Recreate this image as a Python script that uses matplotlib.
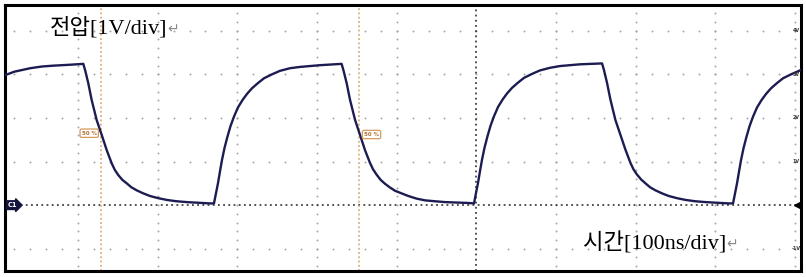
import numpy as np
import matplotlib.pyplot as plt

# Осциллограмма: время [нс], напряжение [В]
trace_t = [
    8.4, 20.0, 40.0, 55.0, 70.0, 90.0,
    # спад 1
    106.7, 109.2, 113.0, 117.2, 123.5, 129.8, 136.1, 142.3, 146.2, 150.6, 155.7,
    161.2, 167.0, 173.7, 182.0, 190.4, 200.8, 211.4, 223.4, 236.5, 265.7,
    # фронт 1
    270.7, 273.2, 275.7, 278.2, 280.7, 283.9, 287.6, 291.4, 295.8, 300.8,
    306.5, 312.1, 318.4, 325.9, 333.5, 343.5, 353.5, 366.1, 378.6, 403.8,
    # спад 2
    430.9, 433.4, 437.2, 441.4, 447.7, 454.0, 460.3, 466.5, 470.4, 474.8, 479.9,
    485.4, 491.2, 497.9, 506.2, 514.6, 525.0, 535.6, 547.6, 560.7, 589.9,
    # фронт 2
    597.1, 599.6, 602.1, 604.6, 607.1, 610.3, 614.0, 617.8, 622.2, 627.2,
    632.9, 638.5, 644.8, 652.3, 659.9, 669.9, 679.9, 692.5, 705.0, 730.2,
    # спад 3
    757.8, 760.3, 764.1, 768.3, 774.6, 780.9, 787.2, 793.4, 797.3, 801.7, 806.8,
    812.3, 818.1, 824.8, 833.1, 841.5, 851.9, 862.5, 874.5, 887.6, 916.8,
    # фронт 3
    922.2, 924.7, 927.2, 929.7, 932.2, 935.4, 939.1, 942.9, 947.3, 952.3,
    958.0, 963.6, 969.9, 977.4, 985.0, 995.0, 1005.0, 1007.5,
]
trace_v = [
    2.98, 3.06, 3.14, 3.18, 3.20, 3.22,
    3.24, 3.08, 2.79, 2.41, 1.95, 1.61, 1.26, 0.96, 0.81, 0.69, 0.58,
    0.50, 0.41, 0.34, 0.27, 0.21, 0.16, 0.12, 0.09, 0.07, 0.04,
    0.04, 0.27, 0.50, 0.77, 1.03, 1.31, 1.57, 1.81, 2.03, 2.24,
    2.41, 2.55, 2.68, 2.80, 2.91, 3.00, 3.08, 3.14, 3.17, 3.21,
    3.24, 3.08, 2.80, 2.42, 1.96, 1.61, 1.26, 0.97, 0.82, 0.70, 0.58,
    0.49, 0.41, 0.33, 0.27, 0.21, 0.15, 0.11, 0.09, 0.07, 0.05,
    0.04, 0.28, 0.51, 0.78, 1.04, 1.32, 1.58, 1.82, 2.04, 2.25,
    2.42, 2.56, 2.69, 2.81, 2.92, 3.01, 3.09, 3.15, 3.19, 3.23,
    3.25, 3.09, 2.80, 2.42, 1.95, 1.61, 1.27, 0.97, 0.82, 0.70, 0.59,
    0.50, 0.41, 0.34, 0.27, 0.21, 0.16, 0.12, 0.09, 0.07, 0.04,
    0.04, 0.27, 0.50, 0.77, 1.03, 1.31, 1.57, 1.81, 2.03, 2.24,
    2.41, 2.55, 2.68, 2.80, 2.91, 3.00, 3.08, 3.10,
]

# Сетка экрана
t_div = [100, 200, 300, 400, 500, 600, 700, 800, 900, 1000]
v_div = [-1, 0, 1, 2, 3, 4]
v_labels = ['-1V', '', '1V', '2V', '3V', '4V']
t_center = 600
cursors = [128.5, 453.0]
cursor_label = '50 %'

x_lim = (8.4, 1007.5)
y_lim = (-1.51, 4.59)

fig = plt.figure(figsize=(8.06, 2.77), dpi=100)
ax = fig.add_axes([5 / 806, 6 / 277, 796 / 806, 266 / 277])
ax.set_xlim(*x_lim)
ax.set_ylim(*y_lim)
ax.set_xticks([])
ax.set_yticks([])
for sp in ax.spines.values():
    sp.set_linewidth(2.2)
    sp.set_color('black')

# точки сетки (по 5 на деление)
gx, gy = [], []
t_minor = np.arange(0, 1020, 20)
v_minor = np.arange(-1.6, 4.8, 0.2)
for t in t_div:
    if t == t_center:
        continue
    gx += [t] * len(v_minor)
    gy += list(v_minor)
for v in v_div:
    if v == 0:
        continue
    gx += list(t_minor)
    gy += [v] * len(t_minor)
ax.scatter(gx, gy, s=2.0, color='#a8a8a8', linewidths=0, zorder=1)

# центральные оси
ax.axvline(t_center, color='#222222', lw=1.1, ls=(0, (1.2, 2.2)), zorder=2)
ax.axhline(0, color='#222222', lw=1.1, ls=(0, (1.2, 2.2)), zorder=2)

# курсоры 50 %
for c in cursors:
    ax.axvline(c, color='#d9a066', lw=1.1, ls=(0, (1.2, 1.6)), zorder=2)
tag = dict(boxstyle='round,pad=0.3', fc='white', ec='#d49a5a', lw=0.9)
ax.text(cursors[0] - 5, 1.65, cursor_label, fontsize=4.0, color='#b07030',
        ha='right', va='center', bbox=tag, zorder=5, fontweight='bold')
ax.text(cursors[1] + 6, 1.62, cursor_label, fontsize=4.0, color='#b07030',
        ha='left', va='center', bbox=tag, zorder=5, fontweight='bold')

# сигнал
ax.plot(trace_t, trace_v, color='#1c1c52', lw=1.7, zorder=4,
        solid_joinstyle='round')

# маркер канала и уровня
ax.text(12, 0, 'C1', fontsize=4.8, color='white', fontweight='bold',
        ha='left', va='center', zorder=6,
        bbox=dict(boxstyle='rarrow,pad=0.2', fc='#14143c', ec='#14143c'))
ax.plot([1003], [0], marker='<', color='black', ms=4.5, zorder=6, clip_on=False)
for v, lab in zip(v_div, v_labels):
    if lab:
        ax.text(1001, v, lab, fontsize=3.4, color='#333333', fontweight='bold',
                ha='center', va='center', zorder=6)

# подписи
fam = ['Liberation Serif', 'Noto Sans CJK KR']
t1 = ax.text(0.0565, 0.915, '전압[1V/div]', transform=ax.transAxes, fontsize=16,
             family=fam, ha='left', va='center', zorder=7)
ax.annotate('↵', xy=(1, 0.42), xycoords=t1, fontsize=10, color='#888888',
            family='DejaVu Sans', ha='left', va='center')
t2 = ax.text(0.726, 0.105, '시간[100ns/div]', transform=ax.transAxes, fontsize=16,
             family=fam, ha='left', va='center', zorder=7)
ax.annotate('↵', xy=(1, 0.42), xycoords=t2, fontsize=10, color='#888888',
            family='DejaVu Sans', ha='left', va='center')

fig.savefig('out.png', dpi=100, facecolor='white')
